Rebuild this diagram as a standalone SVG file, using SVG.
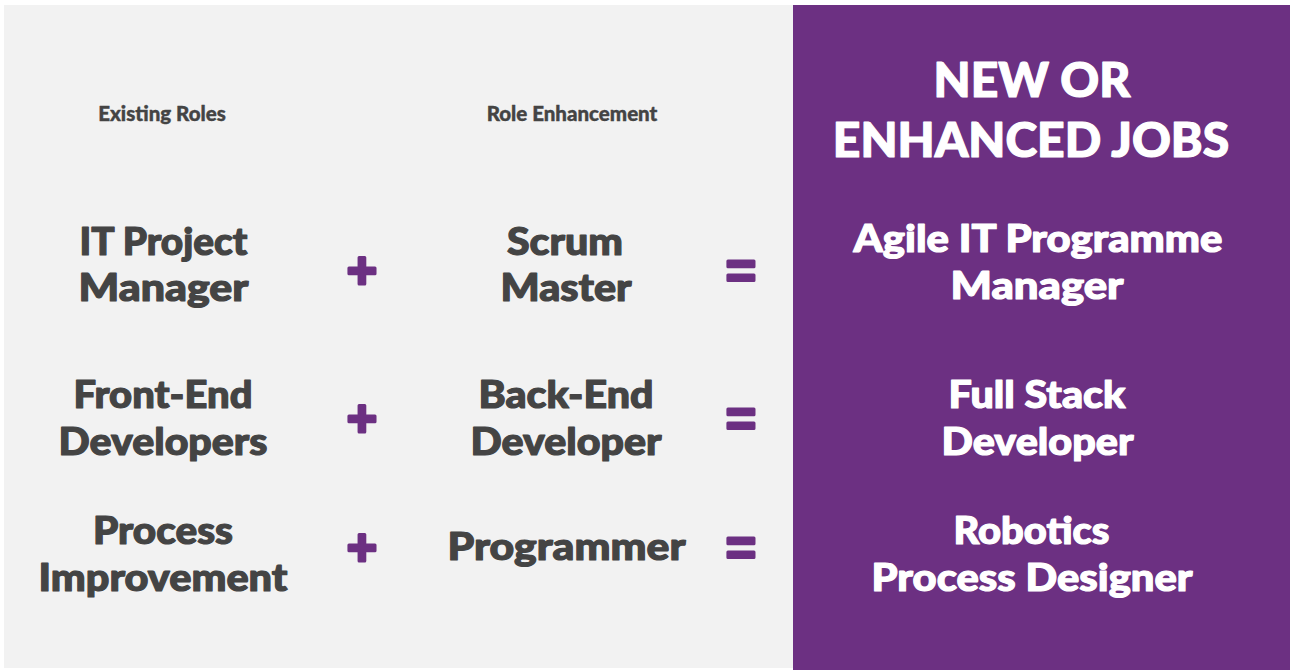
<svg xmlns="http://www.w3.org/2000/svg" width="1290" height="670" viewBox="0 0 1290 670">
<style>
.t{font-family:Lato,"Open Sans","Liberation Sans",sans-serif;font-weight:900;text-anchor:middle;}
.dark{fill:#444444;stroke:#444444;stroke-width:1.2;stroke-linejoin:round;}
.light{fill:#ffffff;stroke:#ffffff;stroke-width:1.2;stroke-linejoin:round;}
.big{font-size:38.5px;}
.hdr{font-size:20.5px;stroke-width:0.4;}
.title{font-size:48px;}
.op{font-family:"Liberation Sans",Arial,sans-serif;font-weight:700;font-size:52px;text-anchor:middle;fill:#6c3082;stroke:#6c3082;stroke-width:3;stroke-linejoin:round;}
</style>
<rect x="0" y="0" width="1290" height="670" fill="#ffffff"/>
<rect x="4" y="5" width="790" height="663" fill="#f2f2f2"/>
<rect x="793" y="5" width="497" height="665" fill="#6c3082"/>

<g id="header-existing"><text class="t dark hdr" x="162" y="121">Existing Roles</text></g>
<g id="header-enhancement"><text class="t dark hdr" x="572" y="121">Role Enhancement</text></g>
<g id="header-new"><text class="t light title" x="1032" y="97">NEW OR</text><text class="t light title" x="1031" y="157">ENHANCED JOBS</text></g>

<g id="existing-1">
<text class="t dark big" x="163.5" y="254.5" textLength="168" lengthAdjust="spacingAndGlyphs">IT Project</text>
<text class="t dark big" x="163.5" y="301" textLength="170" lengthAdjust="spacingAndGlyphs">Manager</text>
</g>
<g id="existing-2">
<text class="t dark big" x="163" y="408" textLength="179" lengthAdjust="spacingAndGlyphs">Front-End</text>
<text class="t dark big" x="163" y="454.5" textLength="209" lengthAdjust="spacingAndGlyphs">Developers</text>
</g>
<g id="existing-3">
<text class="t dark big" x="163" y="544" textLength="140" lengthAdjust="spacingAndGlyphs">Process</text>
<text class="t dark big" x="163" y="590.5" textLength="249" lengthAdjust="spacingAndGlyphs">Improvement</text>
</g>

<g id="enh-1">
<text class="t dark big" x="565" y="254.5" textLength="116" lengthAdjust="spacingAndGlyphs">Scrum</text>
<text class="t dark big" x="566" y="301" textLength="131" lengthAdjust="spacingAndGlyphs">Master</text>
</g>
<g id="enh-2">
<text class="t dark big" x="566" y="408" textLength="175" lengthAdjust="spacingAndGlyphs">Back-End</text>
<text class="t dark big" x="566" y="454.5" textLength="191" lengthAdjust="spacingAndGlyphs">Developer</text>
</g>
<g id="enh-3">
<text class="t dark big" x="566.5" y="560" textLength="238" lengthAdjust="spacingAndGlyphs">Programmer</text>
</g>

<g id="new-1">
<text class="t light big" x="1038" y="252" textLength="369" lengthAdjust="spacingAndGlyphs">Agile IT Programme</text>
<text class="t light big" x="1037" y="298.5" textLength="173" lengthAdjust="spacingAndGlyphs">Manager</text>
</g>
<g id="new-2">
<text class="t light big" x="1037" y="408" textLength="177" lengthAdjust="spacingAndGlyphs">Full Stack</text>
<text class="t light big" x="1037.5" y="454.5" textLength="192" lengthAdjust="spacingAndGlyphs">Developer</text>
</g>
<g id="new-3">
<text class="t light big" x="1031.5" y="544" textLength="156" lengthAdjust="spacingAndGlyphs">Robotics</text>
<text class="t light big" x="1032" y="590.5" textLength="321" lengthAdjust="spacingAndGlyphs">Process Designer</text>
</g>

<g id="connectors">
<text class="op" x="362" y="288">+</text>
<text class="op" x="362" y="436">+</text>
<text class="op" x="362" y="565">+</text>
<text class="op" x="741" y="288">=</text>
<text class="op" x="741" y="436">=</text>
<text class="op" x="741" y="565">=</text>
</g>
</svg>
